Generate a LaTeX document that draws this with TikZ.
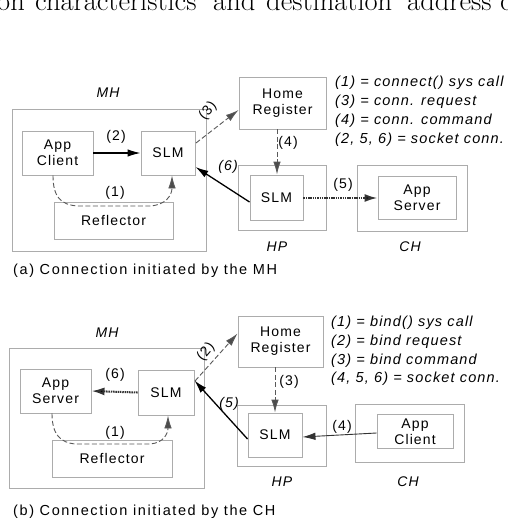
\documentclass[tikz,border=0pt]{standalone}
\usepackage{fontspec}
\usetikzlibrary{arrows.meta}
\newfontfamily\lab[LetterSpace=8]{Liberation Sans}
\newfontfamily\labwide[LetterSpace=11]{Liberation Sans}
\begin{document}
\begin{tikzpicture}[x=1pt,y=-1pt,
  box/.style={draw=gray!65,line width=0.9pt,inner sep=0pt,align=center,font=\lab\fontsize{14}{16}\selectfont},
  lbl/.style={inner sep=0pt,font=\lab\fontsize{14}{16}\selectfont},
  ilbl/.style={inner sep=0pt,font=\lab\itshape\fontsize{14}{16}\selectfont},
  legend/.style={inner sep=0pt,anchor=west,font=\lab\itshape\fontsize{14.5}{16}\selectfont},
  captxt/.style={inner sep=0pt,anchor=west,font=\labwide\fontsize{14.5}{16}\selectfont},
  solidarrow/.style={draw=black,line width=1.3pt,-{Latex[length=13pt,width=7.5pt]}},
  thinarrow/.style={draw=black!80,line width=0.9pt,-{Latex[length=13pt,width=7.5pt]}},
  dasharrow/.style={draw=gray!70!black,line width=0.9pt,dash pattern=on 5pt off 2.5pt,-{Latex[length=13pt,width=7.5pt,fill=gray!60!black]}},
  dotarrow/.style={draw=gray!40!black,line width=2pt,dash pattern=on 1.5pt off 0.8pt,-{Latex[length=13pt,width=8pt,fill=black]}},
  topword/.style={inner sep=0pt,anchor=base west,font=\fontsize{28.5}{28.5}\selectfont}]
\useasboundingbox (0,0) rectangle (508,525);
\fill[white] (0,0) rectangle (508,525);
% partial line of text at the top
\node[topword] (w1) at (-3,10.5) {on};
\node[topword] (w2) at (35,10.5) {characteristics};
\node[topword] (w3) at (213,10.5) {and};
\node[topword] (w4) at (266,10.5) {destination};
\node[topword] (w5) at (407,10.5) {address};
\node[topword] (w6) at (500,10.5) {c};
% ---------------- (a) ----------------
\node[box,minimum width=194,minimum height=142] (MHa) at (109,180) {};
\node[ilbl] (MHla) at (108,93) {MH};
\node[box,minimum width=71,minimum height=44] (acA) at (57.5,153) {App\\Client};
\node[box,minimum width=54,minimum height=44] (slmA) at (168,153) {SLM};
\node[box,minimum width=119,minimum height=37] (refA) at (113.5,220.5) {Reflector};
\node[box,minimum width=87,minimum height=52] (homeA) at (282.5,103) {Home\\Register};
\node[box,minimum width=88,minimum height=65] (hpA) at (282,197.5) {};
\node[box,minimum width=53,minimum height=45] (slmhpA) at (276.5,197.5) {SLM};
\node[box,minimum width=110,minimum height=66] (chA) at (412,198) {};
\node[box,minimum width=78,minimum height=43] (asA) at (417,197.5) {App\\Server};
\node[ilbl] (HPla) at (277,247) {HP};
\node[ilbl] (CHla) at (410,247) {CH};
\draw[solidarrow] (acA.east) -- (slmA.west);
\node[lbl] (l2a) at (116,137) {(2)};
\draw[dasharrow] ([xshift=-4.5pt]acA.south) .. controls (53,196) and (60,205) .. (78,206) -- (150,206) .. controls (166,205) and (172,195) .. ([xshift=4pt]slmA.south);
\node[lbl] (l1a) at (115,193) {(1)};
\coordinate (s3a) at (196,143);
\draw[dasharrow] (s3a) -- ([yshift=-7pt]homeA.west);
\node[lbl,rotate=50] (l3a) at (208,111) {(3)};
\draw[dasharrow] ([xshift=-5.5pt]homeA.south) -- ([xshift=0.5pt]slmhpA.north);
\node[lbl] (l4a) at (288,143) {(4)};
\draw[solidarrow] ([yshift=-4.5pt]slmhpA.west) -- ([yshift=-14pt]slmA.east);
\node[ilbl] (l6a) at (228,167) {(6)};
\draw[dotarrow] ([yshift=-0.5pt]slmhpA.east) -- ([yshift=-0.5pt]asA.west);
\node[lbl] (l5a) at (343,185) {(5)};
\node[legend] (la1) at (335,83) {(1) = connect() sys call};
\node[legend] (la2) at (335,102) {(3) = conn. request};
\node[legend] (la3) at (335,121) {(4) = conn. command};
\node[legend] (la4) at (335,140) {(2, 5, 6) = socket conn.};
\node[captxt] (capa) at (13,271) {(a) Connection initiated by the MH};
% ---------------- (b) ----------------
\node[box,minimum width=195,minimum height=140] (MHb) at (106.5,418) {};
\node[ilbl] (MHlb) at (107,333) {MH};
\node[box,minimum width=71,minimum height=44] (asB) at (55.5,391) {App\\Server};
\node[box,minimum width=56,minimum height=45] (slmB) at (166,392.5) {SLM};
\node[box,minimum width=120,minimum height=37] (refB) at (112,458.5) {Reflector};
\node[box,minimum width=85,minimum height=51] (homeB) at (280.5,341.5) {Home\\Register};
\node[box,minimum width=89,minimum height=61] (hpB) at (281.5,435.5) {};
\node[box,minimum width=54,minimum height=44] (slmhpB) at (275,435) {SLM};
\node[box,minimum width=109,minimum height=58] (chB) at (409.5,433) {};
\node[box,minimum width=76,minimum height=34] (acB) at (415,431.5) {App\\Client};
\node[ilbl] (HPlb) at (282,482) {HP};
\node[ilbl] (CHlb) at (408,482) {CH};
\draw[dotarrow] (slmB.west) -- (asB.east);
\node[lbl] (l6b) at (115,375) {(6)};
\draw[dasharrow] ([xshift=-3.5pt]asB.south) .. controls (52,434) and (60,443) .. (76,444) -- (150,444) .. controls (164,443) and (168,433) .. ([xshift=2pt]slmB.south);
\node[lbl] (l1b) at (115,433) {(1)};
\coordinate (s2b) at (195,381);
\draw[dasharrow] (s2b) -- ([yshift=8pt]homeB.west);
\node[lbl,rotate=50] (l2b) at (206,352) {(2)};
\draw[dasharrow] ([xshift=-5.5pt]homeB.south) -- ([xshift=0pt]slmhpB.north);
\node[lbl] (l3b) at (289,382) {(3)};
\draw[solidarrow] ([yshift=-4pt]slmhpB.west) -- ([yshift=12pt]slmB.east);
\node[ilbl] (l5b) at (229,404) {(5)};
\draw[thinarrow] ([yshift=-1.5pt]acB.west) -- ([yshift=-2pt]slmhpB.east);
\node[lbl] (l4b) at (342,427) {(4)};
\node[legend] (lb1) at (331,323) {(1) = bind() sys call};
\node[legend] (lb2) at (331,342) {(2) = bind request};
\node[legend] (lb3) at (331,361) {(3) = bind command};
\node[legend] (lb4) at (331,379) {(4, 5, 6) = socket conn.};
\node[captxt] (capb) at (13,512) {(b) Connection initiated by the CH};
\end{tikzpicture}
\end{document}
